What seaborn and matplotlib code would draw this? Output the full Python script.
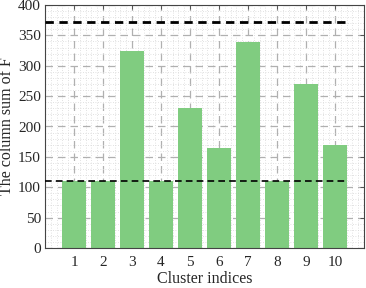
import numpy as np
import pandas as pd
import matplotlib
matplotlib.use('Agg')
import matplotlib.pyplot as plt
import seaborn as sns
from matplotlib.ticker import MultipleLocator

# cluster indices and column sums
clusters = [1, 2, 3, 4, 5, 6, 7, 8, 9, 10]
col_sums = [110, 110, 324, 110, 230, 165, 339, 110, 270, 169]
upper_level = 372
lower_level = 110

sns.set_style('white')
plt.rcParams['font.family'] = ['Liberation Serif', 'DejaVu Serif']

df = pd.DataFrame({'cluster': clusters, 'colsum': col_sums})

fig = plt.figure(figsize=(3.66, 2.88), dpi=100)
ax = fig.add_axes([45 / 366, 1 - 248 / 288, 319 / 366, 243 / 288])

# grid first so bars sit on top
ax.set_axisbelow(True)
ax.xaxis.set_major_locator(MultipleLocator(1))
ax.yaxis.set_major_locator(MultipleLocator(50))
ax.xaxis.set_minor_locator(MultipleLocator(0.2))
ax.yaxis.set_minor_locator(MultipleLocator(10))
ax.grid(True, which='major', color='#b0b0b0', linestyle=(0, (6, 4)), linewidth=0.9)
ax.grid(True, which='minor', color='#d8d8d8', linestyle=(0, (1, 2)), linewidth=0.6)

sns.barplot(data=df, x='cluster', y='colsum', native_scale=True, width=0.8,
            color='#80cc80', saturation=1, edgecolor='none', ax=ax, zorder=2)

# threshold lines
ax.plot([0, 10.4], [upper_level, upper_level], color='black', linestyle=(0, (3, 2)), linewidth=2, zorder=3)
ax.plot([0, 10.4], [lower_level, lower_level], color='black', linestyle=(0, (4, 2.5)), linewidth=1.2, zorder=3)

ax.set_xlim(0, 11)
ax.set_ylim(0, 400)
ax.set_xticks(clusters)
ax.set_xticklabels([str(c) for c in clusters])
ax.tick_params(axis='both', which='major', direction='in', length=3, width=0.6,
               labelsize=11, top=True, right=True, color='#444444')
ax.tick_params(axis='both', which='minor', length=0)
ax.tick_params(axis='x', pad=6)
ax.tick_params(axis='y', pad=3)
for s in ax.spines.values():
    s.set_visible(True)
    s.set_color('#444444')
    s.set_linewidth(0.8)

ax.set_xlabel('Cluster indices', fontsize=11.5, labelpad=1)
ax.set_ylabel('The column sum of F', fontsize=11.5, labelpad=2)

fig.savefig('out.png', dpi=100)
